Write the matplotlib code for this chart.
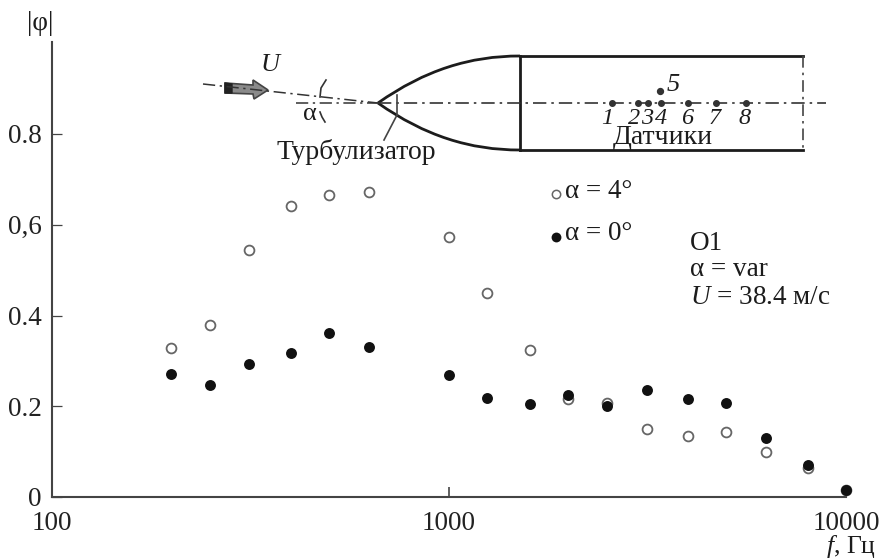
import numpy as np
import matplotlib
matplotlib.use('Agg')
import matplotlib.pyplot as plt
from matplotlib.path import Path
from matplotlib.patches import PathPatch, Polygon

plt.rcParams['font.family'] = ['Liberation Serif', 'DejaVu Serif']
plt.rcParams['mathtext.fontset'] = 'custom'
plt.rcParams['mathtext.rm'] = 'Liberation Serif'
plt.rcParams['mathtext.it'] = 'Liberation Serif:italic'

freq = [200, 250, 315, 400, 500, 630, 1000, 1250, 1600, 2000, 2500, 3150, 4000, 5000, 6300, 8000, 10000]
phi_4 = [0.328, 0.38, 0.544, 0.642, 0.665, 0.672, 0.572, 0.45, 0.323, 0.215, 0.207, 0.15, 0.135, 0.143, 0.10, 0.065, 0.015]
phi_0 = [0.27, 0.247, 0.293, 0.318, 0.362, 0.33, 0.268, 0.218, 0.205, 0.225, 0.20, 0.235, 0.215, 0.207, 0.13, 0.07, 0.015]
yticks = [0, 0.2, 0.4, 0.6, 0.8]
ylabels = ['0', '0.2', '0.4', '0,6', '0.8']
xticks = [100, 1000, 10000]
xlabels = ['100', '1000', '10000']

# sensors on the sketch, pixel x and label
sensor_x = [612, 638, 648, 661, 688, 716, 746]
sensor_names = ['1', '2', '3', '4', '6', '7', '8']
sensor_lab_x = [607, 634, 647.5, 661, 687, 715, 745]

W, H = 881, 560
fs = 19.5
fig = plt.figure(figsize=(W / 100, H / 100), dpi=100)
ax = fig.add_axes([51.5 / W, 1 - 497 / H, (846 - 51.5) / W, (497 - 42) / H])
ax.set_xscale('log')
ax.set_xlim(100, 10000)
ax.set_ylim(0, (497 - 42) / 453.75)
ax.spines['top'].set_visible(False)
ax.spines['right'].set_visible(False)
ax.spines['left'].set_color('#444444')
ax.spines['bottom'].set_color('#444444')
ax.spines['left'].set_linewidth(1.5)
ax.spines['bottom'].set_linewidth(1.5)
ax.set_xticks(xticks)
ax.set_xticklabels(xlabels, fontsize=fs, color='#222222')
ax.set_yticks(yticks)
ax.set_yticklabels(ylabels, fontsize=fs, color='#222222')
ax.get_xticklabels()[0].set_x(100)
ax.minorticks_off()
ax.tick_params(axis='y', direction='in', length=7, width=0.9, color='#444444', pad=7)
ax.tick_params(axis='x', direction='in', length=7, width=1.2, color='#444444', pad=10)
ax.patch.set_alpha(0)

ax.scatter(freq, phi_4, s=50, facecolor='white', edgecolor='#666666', linewidth=1.3, clip_on=False, zorder=3)
ax.scatter(freq, phi_0, s=62, color='#111111', linewidth=0, clip_on=False, zorder=4)

# overlay in image pixels for the sketch and notes
ov = fig.add_axes([0, 0, 1, 1])
ov.set_xlim(0, W)
ov.set_ylim(H, 0)
ov.axis('off')
ink = '#1c1c1c'


def txt(x, y, s, **kw):
    kw.setdefault('fontsize', fs)
    kw.setdefault('color', ink)
    kw.setdefault('ha', 'center')
    kw.setdefault('va', 'center')
    ov.text(x, y, s, **kw)


# body
ov.plot([520, 803], [56, 56], color=ink, lw=2)
ov.plot([520, 803], [150, 150], color=ink, lw=2)
ov.plot([520, 520], [56, 150], color=ink, lw=2)
ov.plot([803, 803], [56, 150], color='#444444', lw=1.2, ls=(0, (7, 3, 1.5, 3)))
for sign in (-1, 1):
    verts = [(378, 103), (425, 103 + sign * 33), (470, 103 + sign * 47), (520, 103 + sign * 47)]
    ov.add_patch(PathPatch(Path(verts, [Path.MOVETO, Path.CURVE4, Path.CURVE4, Path.CURVE4]),
                           fc='none', ec=ink, lw=2))
# axis lines
ov.plot([378, 826], [103, 103], color='#333333', lw=1.2, ls=(0, (8, 3, 1.5, 3)))
ov.plot([296, 378], [103, 103], color='#333333', lw=1.1, ls=(0, (8, 3, 1.5, 3)))
ov.plot([203, 378], [84, 103], color='#333333', lw=1.1, ls=(0, (8, 3, 1.5, 3)))
# turbulator ring and leader
ov.plot([397, 397], [95, 115], color='#444444', lw=1.2)
ov.plot([397, 384], [115, 140], color='#444444', lw=1.2)
# angle arcs
ov.plot([326, 321, 320], [80, 88, 97], color='#333333', lw=1.2)
ov.plot([320, 322, 325], [112, 117, 122], color='#333333', lw=1.2)
# flow arrow
ov.add_patch(Polygon([(225, 83), (253, 85), (253, 80), (268, 90), (254, 99), (253, 94), (225, 93)],
                     fc='#8a8a8a', ec='#444444', lw=1.2))
ov.add_patch(Polygon([(225, 83), (232, 84), (232, 93), (225, 93)], fc='#222222', ec='#222222'))

ov.scatter(sensor_x, [103] * len(sensor_x), s=16, color='#333333', zorder=3)
ov.scatter([660], [91], s=18, color='#333333', zorder=3)
for x, s in zip(sensor_lab_x, sensor_names):
    txt(x, 119, s, style='italic', fontsize=17.5)
txt(673, 85, '5', style='italic', fontsize=19)
txt(270, 65, 'U', style='italic', fontsize=19)
txt(310, 114, 'α', fontsize=19)
txt(356, 152, 'Турбулизатор', fontsize=20)
txt(663, 137, 'Датчики', fontsize=20)
txt(40, 24, '|φ|', fontsize=fs)

# legend and notes
ov.scatter([556], [194], s=36, facecolor='white', edgecolor='#666666', linewidth=1.1)
ov.scatter([556], [237], s=50, color='#111111', linewidth=0)
txt(565, 192, 'α = 4°', ha='left')
txt(565, 234, 'α = 0°', ha='left')
txt(690, 243, 'O1', ha='left', fontsize=fs)
txt(690, 269, 'α = var', ha='left', fontsize=fs)
txt(690, 297, '$\\mathit{U}$ = 38.4 м/с', ha='left', fontsize=fs)
txt(851, 547, '$\\mathit{f}$, Гц', fontsize=18.5)

fig.savefig('out.png', dpi=100)
